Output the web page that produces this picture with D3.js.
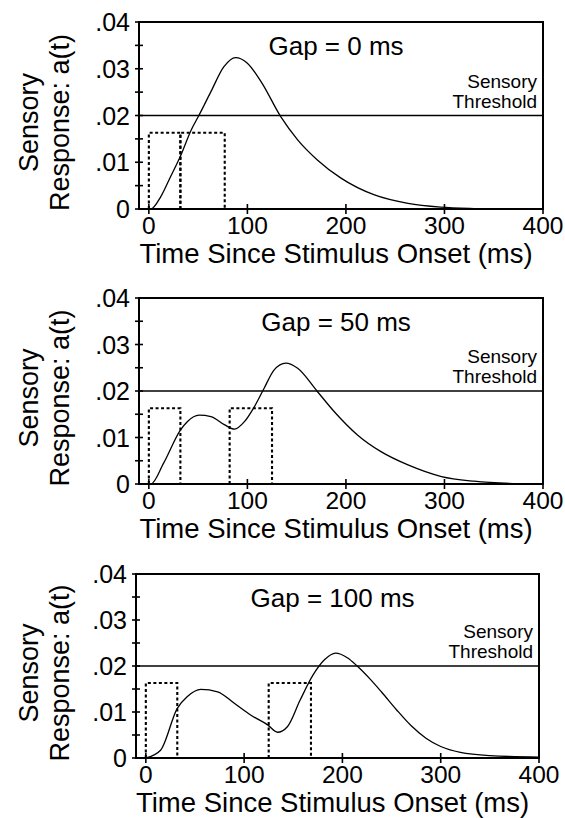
<!DOCTYPE html>
<html>
<head>
<meta charset="utf-8">
<script src="https://cdn.jsdelivr.net/npm/d3@7"></script>
<style>
  body { margin: 0; background: #fff; }
  svg { display: block; font-family: "Liberation Sans", Arial, Helvetica, sans-serif; }
</style>
</head>
<body>
<script>
// gap conditions, one per panel
const gapLabels = ['Gap = 0 ms', 'Gap = 50 ms', 'Gap = 100 ms'];

// sensory response a(t): [time ms, a(t)]
const responseGap0 = [
  [0, 0], [2, 0], [12, 0.0026], [22, 0.0069], [32, 0.0113], [43, 0.0169], [51, 0.0201],
  [63, 0.0251], [76, 0.0304], [88, 0.0324], [100, 0.0312], [114, 0.0272], [134, 0.0197],
  [151, 0.0148], [171, 0.0105], [195, 0.0066], [229, 0.0030], [263, 0.0012], [296, 0.0004],
  [330, 0.0001], [360, 0]
];
const responseGap50 = [
  [0, 0], [2, 0], [15, 0.0045], [32, 0.0116], [39, 0.0134], [51, 0.0148], [63, 0.0145],
  [77, 0.0127], [87, 0.0118], [97, 0.0134], [107, 0.0166], [117, 0.0206], [127, 0.0245],
  [139, 0.0260], [151, 0.0249], [171, 0.0199], [188, 0.0156], [212, 0.0105], [236, 0.0069],
  [263, 0.0041], [297, 0.0016], [330, 0.0006], [370, 0.0001], [400, 0]
];
const responseGap100 = [
  [0, 0], [15, 0.0017], [32, 0.0108], [42, 0.0133], [56, 0.0149], [73, 0.0144], [90, 0.0119],
  [107, 0.0093], [124, 0.0072], [134, 0.0056], [144, 0.0068], [157, 0.0126], [170, 0.0180],
  [182, 0.0214], [193, 0.0228], [205, 0.0218], [215, 0.0200], [228, 0.0172], [240, 0.0143],
  [255, 0.0105], [270, 0.0070], [285, 0.0043], [300, 0.0025], [320, 0.0012], [350, 0.0005],
  [400, 0.0002]
];
const responses = [responseGap0, responseGap50, responseGap100];

// stimulus pulses (dashed boxes): [onset, offset] in ms
const pulsesGap0 = [[0, 32], [32, 77]];
const pulsesGap50 = [[0, 32], [82, 125]];
const pulsesGap100 = [[0, 32], [125, 168]];
const pulses = [pulsesGap0, pulsesGap50, pulsesGap100];
const pulseHeight = 0.0163;

const threshold = 0.02;
const xTicks = [0, 100, 200, 300, 400];
const yTicks = [0, 0.01, 0.02, 0.03, 0.04];
const yMinorTicks = [0.005, 0.015, 0.025, 0.035];

// layout
const W = 565;
const H = 818;
const panelTop = [22, 298, 574];
const panelBottom = [209, 484, 758];
const panelLeft = [139, 139, 136];
const panelRight = [543, 543, 539];

const svg = d3.select('body').append('svg').attr('width', W).attr('height', H);

const line = d3.line().curve(d3.curveMonotoneX);

function yLabel(d) {
  return d === 0 ? '0' : d3.format('.2f')(d).replace(/^0/, '');
}

function drawPanel(i) {
  const x = d3.scaleLinear().domain([-10, 400]).range([panelLeft[i], panelRight[i]]);
  const y = d3.scaleLinear().domain([0, 0.04]).range([panelBottom[i], panelTop[i]]);
  const g = svg.append('g');

  line.x(d => x(d[0])).y(d => y(d[1]));

  // frame
  g.append('rect')
    .attr('x', x.range()[0])
    .attr('y', y.range()[1])
    .attr('width', x.range()[1] - x.range()[0])
    .attr('height', y.range()[0] - y.range()[1])
    .attr('fill', 'none')
    .attr('stroke', '#000')
    .attr('stroke-width', 2);

  // y ticks, crossing the left edge
  g.selectAll('none')
    .data(yTicks.concat(yMinorTicks))
    .enter()
    .append('line')
    .attr('x1', x(-10) - 4)
    .attr('x2', x(-10) + 4)
    .attr('y1', d => y(d))
    .attr('y2', d => y(d))
    .attr('stroke', '#000')
    .attr('stroke-width', 1.6);

  g.selectAll('none')
    .data(yTicks)
    .enter()
    .append('text')
    .attr('x', x(-10) - 9)
    .attr('y', d => y(d))
    .attr('dy', '0.36em')
    .attr('text-anchor', 'end')
    .attr('font-size', 25)
    .text(yLabel);

  // x ticks, crossing the bottom edge
  g.selectAll('none')
    .data(xTicks)
    .enter()
    .append('line')
    .attr('x1', d => x(d))
    .attr('x2', d => x(d))
    .attr('y1', y(0) - 5)
    .attr('y2', y(0) + 5)
    .attr('stroke', '#000')
    .attr('stroke-width', 1.6);

  g.selectAll('none')
    .data(xTicks)
    .enter()
    .append('text')
    .attr('x', d => x(d))
    .attr('y', y(0) + 25)
    .attr('text-anchor', 'middle')
    .attr('font-size', 24.5)
    .text(d => d);

  // threshold
  g.append('line')
    .attr('x1', x(-10))
    .attr('x2', x(400))
    .attr('y1', y(threshold))
    .attr('y2', y(threshold))
    .attr('stroke', '#000')
    .attr('stroke-width', 1.5);

  const thr = g.append('text')
    .attr('text-anchor', 'end')
    .attr('font-size', 19);
  thr.append('tspan').attr('x', x(400) - 6).attr('y', y(threshold) - 28).text('Sensory');
  thr.append('tspan').attr('x', x(400) - 6).attr('y', y(threshold) - 8).text('Threshold');

  // stimulus pulses
  g.selectAll('none')
    .data(pulses[i])
    .enter()
    .append('path')
    .attr('d', d => `M${x(d[0])},${y(0)}V${y(pulseHeight)}H${x(d[1])}V${y(0)}`)
    .attr('fill', 'none')
    .attr('stroke', '#000')
    .attr('stroke-width', 2.1)
    .attr('stroke-dasharray', '3,2.5');

  // response curve
  g.append('path')
    .attr('d', line(responses[i]))
    .attr('fill', 'none')
    .attr('stroke', '#000')
    .attr('stroke-width', 1.3);

  // gap label
  g.append('text')
    .attr('x', x(190))
    .attr('y', y(0.04) + 33)
    .attr('text-anchor', 'middle')
    .attr('font-size', 26)
    .text(gapLabels[i]);

  // x axis title
  g.append('text')
    .attr('x', x(190))
    .attr('y', y(0) + 54)
    .attr('text-anchor', 'middle')
    .attr('font-size', 27.5)
    .text('Time Since Stimulus Onset (ms)');

  // y axis title
  const yc = (y(0) + y(0.04)) / 2 + 7;
  const yt = g.append('text')
    .attr('transform', `translate(0,${yc}) rotate(-90)`)
    .attr('text-anchor', 'middle')
    .attr('font-size', 27);
  yt.append('tspan').attr('x', 0).attr('y', 38).text('Sensory');
  yt.append('tspan').attr('x', 0).attr('y', 69).text('Response: a(t)');
}

for (let i = 0; i < 3; i++) drawPanel(i);
</script>
</body>
</html>
